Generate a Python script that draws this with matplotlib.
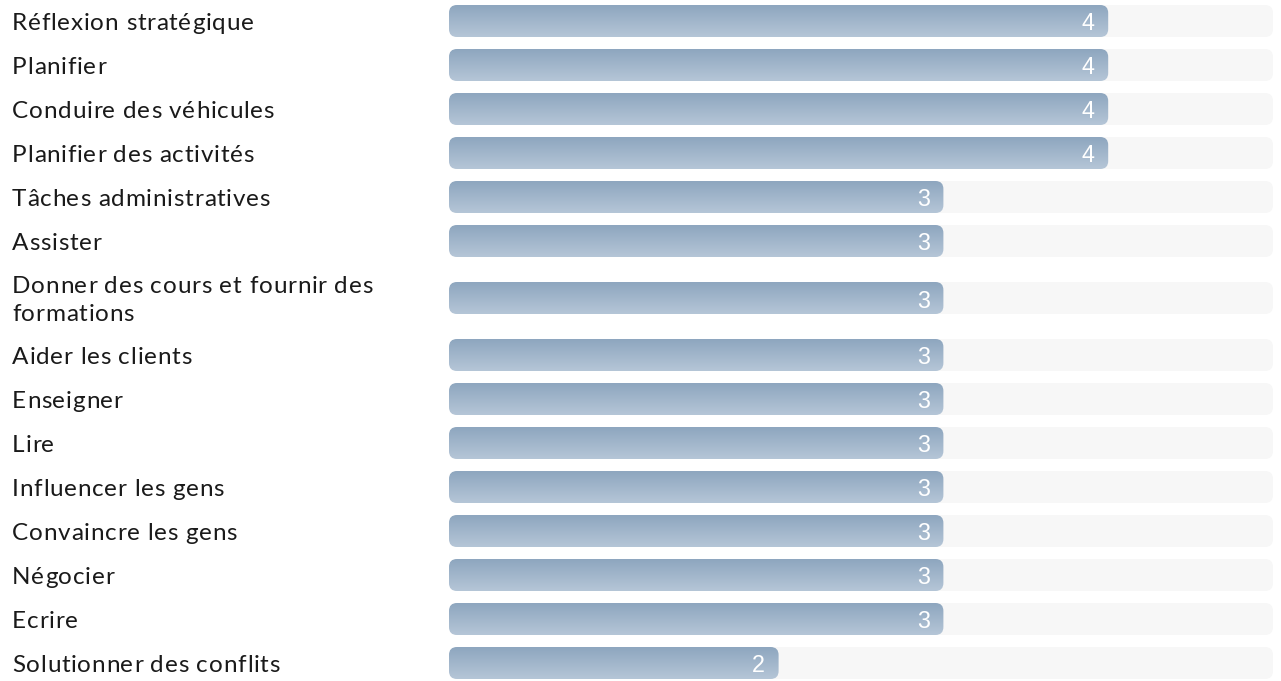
import matplotlib
matplotlib.use("Agg")
import matplotlib.pyplot as plt
import numpy as np
from matplotlib.patches import FancyBboxPatch
from matplotlib.colors import LinearSegmentedColormap
from matplotlib.font_manager import FontProperties, findfont, get_font

skills = ["Réflexion stratégique", "Planifier", "Conduire des véhicules",
          "Planifier des activités", "Tâches administratives", "Assister",
          "Donner des cours et fournir des\nformations", "Aider les clients",
          "Enseigner", "Lire", "Influencer les gens", "Convaincre les gens",
          "Négocier", "Ecrire", "Solutionner des conflits"]
levels = [4, 4, 4, 4, 3, 3, 3, 3, 3, 3, 3, 3, 3, 3, 2]
max_level = 5

W, H = 1281, 681
fig = plt.figure(figsize=(W / 100, H / 100), dpi=100)
x0, x1 = 449, 1273
ax = fig.add_axes([x0 / W, 0, (x1 - x0) / W, 1])
ax.set_xlim(0, max_level)
ax.set_ylim(H, 0)
ax.axis("off")

px_x = max_level / (x1 - x0)  # data units per pixel in x
aspect = 1 / px_x
bar_h = 32
radius = 8 * px_x

cmap = LinearSegmentedColormap.from_list("g", ["#8ea6bf", "#b5c6d7"])
grad = np.linspace(0, 1, 64).reshape(-1, 1)

label_size = 17.5
tracking = 0.75  # extra px between letters
font = get_font(findfont(FontProperties(family="Lato")))
font.set_size(label_size, 100)


def char_positions(s):
    try:
        from matplotlib import _text_helpers
        return [it.x for it in _text_helpers.layout(s, font)]
    except Exception:
        return None


def spaced_text(x, y, s):
    xs = char_positions(s)
    if xs is None or len(xs) != len(s):
        fig.text(x / W, 1 - y / H, s, ha="left", va="baseline",
                 fontsize=label_size, family="Lato", color="#1a1a1a")
        return
    for k, ch in enumerate(s):
        if ch == " ":
            continue
        fig.text((x + xs[k] + k * tracking) / W, 1 - y / H, ch, ha="left",
                 va="baseline", fontsize=label_size, family="Lato",
                 color="#1a1a1a")


# row centres from label line counts
y = -1
centers = []
for s in skills:
    h = 44 + 26 * s.count("\n")
    centers.append(y + h / 2)
    y += h

for s, v, c in zip(skills, levels, centers):
    track = FancyBboxPatch((0, c - bar_h / 2), max_level, bar_h,
                           boxstyle=f"round,pad=0,rounding_size={radius}",
                           mutation_aspect=aspect, fc="#f7f7f7", ec="none")
    ax.add_patch(track)
    bar = FancyBboxPatch((0, c - bar_h / 2), v, bar_h,
                         boxstyle=f"round,pad=0,rounding_size={radius}",
                         mutation_aspect=aspect, fc="none", ec="none")
    ax.add_patch(bar)
    im = ax.imshow(grad, cmap=cmap, aspect="auto",
                   extent=(0, v, c + bar_h / 2, c - bar_h / 2), zorder=2)
    im.set_clip_path(bar)
    ax.text(v - 13.5 * px_x, c + 9.5, str(v), color="white", ha="right",
            va="baseline", fontsize=16.8, family="Liberation Sans", zorder=3)
    lines = s.split("\n")
    n = len(lines)
    for i, line in enumerate(lines):
        baseline = c + 9 + (i - (n - 1) / 2) * 28.5
        spaced_text(12, baseline, line)

fig.savefig("out.png", dpi=100)
